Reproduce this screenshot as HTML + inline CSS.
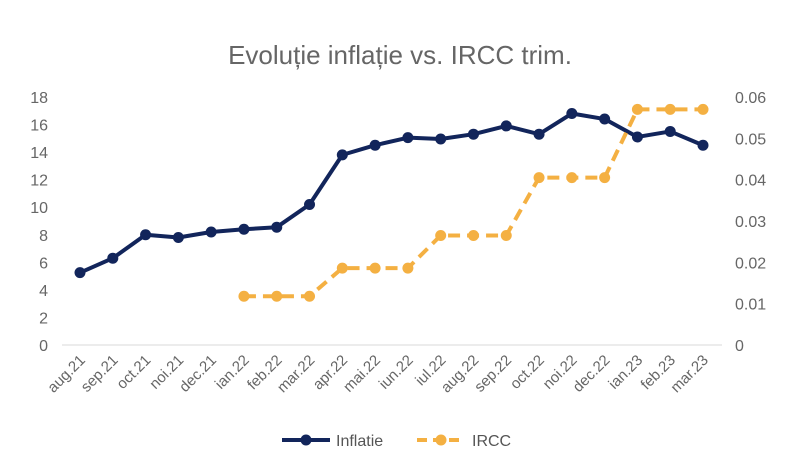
<!DOCTYPE html>
<html><head><meta charset="utf-8"><style>
body{margin:0;background:#fff;}
svg{display:block;font-family:"Liberation Sans",sans-serif;}
</style></head><body>
<svg id="c" width="800" height="463">
<text x="400" y="64" text-anchor="middle" font-size="26" fill="#666">Evoluție inflație vs. IRCC trim.</text>
<g id="g"></g>
<g>
<g>
<line x1="282" y1="440" x2="330" y2="440" stroke="#12255b" stroke-width="4"/>
<circle cx="306" cy="440" r="5.5" fill="#12255b"/>
<text x="336" y="446" font-size="16" fill="#555">Inflatie</text></g>
<g>
<line x1="417" y1="440" x2="465" y2="440" stroke="#f4b042" stroke-width="4" stroke-dasharray="10,6"/>
<circle cx="441" cy="440" r="5.5" fill="#f4b042"/>
<text x="472" y="446" font-size="16" fill="#555">IRCC</text></g>
</g>
</svg>
<script>
const categories=["aug.21","sep.21","oct.21","noi.21","dec.21","ian.22","feb.22","mar.22","apr.22","mai.22","iun.22","iul.22","aug.22","sep.22","oct.22","noi.22","dec.22","ian.23","feb.23","mar.23"];
const inflatie=[5.25,6.3,8.0,7.8,8.2,8.4,8.55,10.2,13.8,14.5,15.05,14.95,15.3,15.9,15.3,16.8,16.4,15.1,15.5,14.5];
const ircc=[null,null,null,null,null,0.0118,0.0118,0.0118,0.0186,0.0186,0.0186,0.0265,0.0265,0.0265,0.0405,0.0405,0.0405,0.057,0.057,0.057];
const leftTicks=[0,2,4,6,8,10,12,14,16,18];
const rightTicks=[0,0.01,0.02,0.03,0.04,0.05,0.06];
const NS="http://www.w3.org/2000/svg",g=document.getElementById('g');
const x0=80,x1=703,yTop=97,yBot=345;
const xs=i=>x0+i*(x1-x0)/(categories.length-1);
const yl=v=>yBot-v/18*(yBot-yTop);
const yr=v=>yBot-v/0.06*(yBot-yTop);
function mk(t,a,p){const e=document.createElementNS(NS,t);for(const k in a)e.setAttribute(k,a[k]);(p||g).appendChild(e);return e;}
const ax=mk('line',{x1:62,x2:722,y1:yBot,y2:yBot,stroke:'#d9d9d9','stroke-width':1});


leftTicks.forEach(v=>{const t=mk('text',{x:48,y:yl(v)+6,'text-anchor':'end','font-size':16,fill:'#666'});t.textContent=v;

});
rightTicks.forEach(v=>{const t=mk('text',{x:735,y:yr(v)+6,'font-size':16,fill:'#666'});t.textContent=v===0?'0':v.toFixed(2);

});
categories.forEach((c,i)=>{const t=mk('text',{x:xs(i)+6,y:yBot+16,'text-anchor':'end','font-size':15,fill:'#666',transform:`rotate(-45 ${xs(i)+6} ${yBot+16})`});t.textContent=c;

});
let d='';inflatie.forEach((v,i)=>{d+=(i?'L':'M')+xs(i)+','+yl(v);});
const p1=mk('path',{d:d,fill:'none',stroke:'#12255b','stroke-width':4,'stroke-linejoin':'round'});


let d2='',st=true;ircc.forEach((v,i)=>{if(v==null)return;d2+=(st?'M':'L')+xs(i)+','+yr(v);st=false;});
const p2=mk('path',{d:d2,fill:'none',stroke:'#f4b042','stroke-width':4,'stroke-dasharray':'12,7'});


inflatie.forEach((v,i)=>{const c=mk('circle',{cx:xs(i),cy:yl(v),r:5.5,fill:'#12255b'});

});
ircc.forEach((v,i)=>{if(v==null)return;const c=mk('circle',{cx:xs(i),cy:yr(v),r:5.5,fill:'#f4b042'});

});
</script>
</body></html>
